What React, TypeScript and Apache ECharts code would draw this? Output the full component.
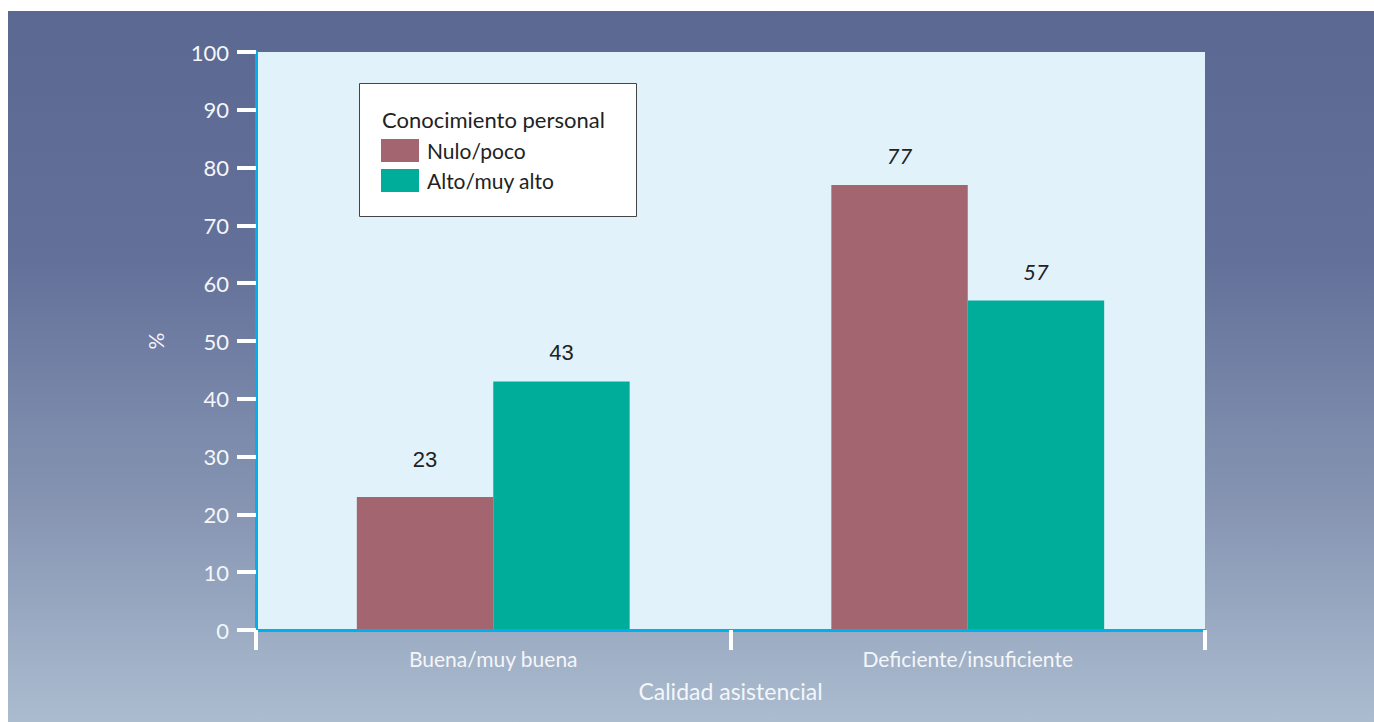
import React, { useEffect, useRef } from "react";
import * as echarts from "echarts";

const categories = ["Buena/muy buena", "Deficiente/insuficiente"];
const seriesNames = ["Nulo/poco", "Alto/muy alto"];
const nuloPoco = [23, 77];
const altoMuyAlto = [43, 57];
const yTicks = [0, 10, 20, 30, 40, 50, 60, 70, 80, 90, 100];
const legendTitle = "Conocimiento personal";
const xAxisName = "Calidad asistencial";
const yAxisName = "%";

const colors = ["#a36670", "#00ad9a"];

export default function App() {
  const ref = useRef<HTMLDivElement>(null);
  useEffect(() => {
    if (!ref.current) return;
    document.documentElement.style.overflow = "hidden";
    document.body.style.overflow = "hidden";
    const chart = echarts.init(ref.current, null, { renderer: "svg" });
    const labelFor = (catIdx: number) =>
      catIdx === 0
        ? { fontFamily: "Liberation Sans", fontStyle: "normal" }
        : { fontFamily: "Lato", fontStyle: "italic" };
    const mkSeries = (name: string, vals: number[], color: string) => ({
      name,
      type: "bar",
      barGap: "0%",
      barCategoryGap: "42.5%",
      itemStyle: { color },
      label: {
        show: true,
        position: "top",
        distance: 18,
        fontSize: 22,
        color: "#222",
      },
      data: vals.map((v, i) => ({
        value: v,
        label: { ...labelFor(i), distance: v === 23 ? 27 : 18 },
      })),
    });
    chart.setOption({
      animation: false,
      backgroundColor: {
        type: "linear",
        x: 0,
        y: 0,
        x2: 0,
        y2: 1,
        colorStops: [
          { offset: 0, color: "#5a6892" },
          { offset: 0.35, color: "#63719a" },
          { offset: 0.7, color: "#8795b3" },
          { offset: 1, color: "#abbccf" },
        ],
      },
      grid: {
        left: 248,
        top: 41,
        width: 949,
        height: 578,
        show: true,
        backgroundColor: "#e2f2fb",
        borderWidth: 0,
        containLabel: false,
      },
      legend: {
        left: 373,
        top: 128,
        orient: "vertical",
        itemWidth: 38,
        itemHeight: 23,
        itemGap: 7,
        padding: 0,
        icon: "rect",
        data: seriesNames,
        textStyle: {
          fontSize: 21,
          color: "#222",
          fontFamily: "Lato",
          padding: [0, 0, 0, 3],
        },
        z: 10,
      },
      graphic: [
        {
          type: "rect",
          z: 5,
          shape: { x: 351.5, y: 72.5, width: 277, height: 133 },
          style: { fill: "#ffffff", stroke: "#444", lineWidth: 1 },
        },
        {
          type: "text",
          z: 6,
          x: 374,
          y: 108,
          style: {
            text: legendTitle,
            fontSize: 22,
            fontFamily: "Lato",
            fill: "#222",
            verticalAlign: "middle",
          },
        },
      ],
      xAxis: {
        type: "category",
        data: categories,
        name: xAxisName,
        nameLocation: "middle",
        nameGap: 49,
        nameTextStyle: { color: "#f4f6fa", fontSize: 23, fontFamily: "Lato" },
        axisLine: { show: true, lineStyle: { color: "#00b0ec", width: 3 } },
        axisTick: {
          show: true,
          length: 20,
          lineStyle: { color: "#ffffff", width: 4 },
        },
        axisLabel: {
          color: "#f4f6fa",
          fontSize: 21,
          fontFamily: "Lato",
          margin: 18,
        },
        z: 3,
      },
      yAxis: {
        type: "value",
        min: yTicks[0],
        max: yTicks[yTicks.length - 1],
        interval: 10,
        name: yAxisName,
        nameLocation: "middle",
        nameGap: 90,
        nameTextStyle: { color: "#f4f6fa", fontSize: 21, fontFamily: "Lato" },
        splitLine: { show: false },
        axisLine: { show: true, lineStyle: { color: "#00b0ec", width: 3 } },
        axisTick: {
          show: true,
          length: 19,
          lineStyle: { color: "#ffffff", width: 4 },
        },
        axisLabel: {
          color: "#f4f6fa",
          fontSize: 22,
          fontFamily: "Lato",
          margin: 27,
        },
        z: 3,
      },
      series: [
        mkSeries(seriesNames[0], nuloPoco, colors[0]),
        mkSeries(seriesNames[1], altoMuyAlto, colors[1]),
      ],
    });
    return () => chart.dispose();
  }, []);
  return (
    <div style={{ position: "fixed", left: 8, top: 11, width: 1366, height: 711 }}>
      <div ref={ref} style={{ width: 1366, height: 711 }} />
    </div>
  );
}
